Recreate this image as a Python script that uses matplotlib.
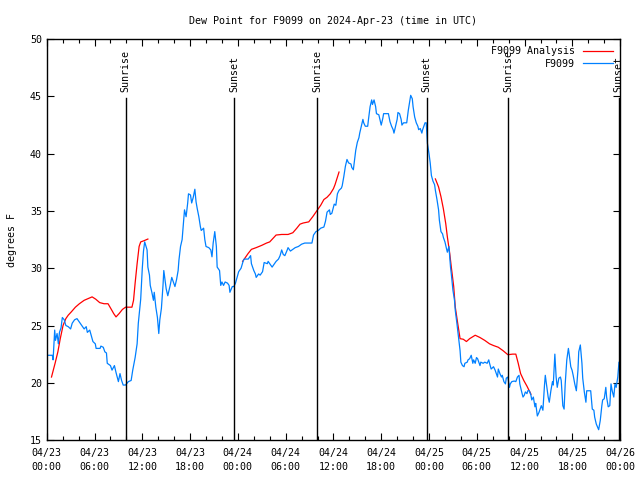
import matplotlib
matplotlib.use('Agg')
import matplotlib.pyplot as plt
from matplotlib.ticker import MultipleLocator

# hours since 2024-04-23 00:00 UTC
obs_hours = [0.1, 0.7, 0.8, 1.0, 1.1, 1.3, 1.46, 1.6, 1.8, 1.96, 2.2, 2.4, 2.7, 3.0, 3.2, 3.5, 3.8, 4.0,
             4.2, 4.5, 4.7, 4.96, 5.1, 5.4, 5.6, 5.8, 6.1, 6.2, 6.7, 6.8, 7.1, 7.3, 7.5, 7.6, 8.0, 8.2,
             8.5, 8.7, 9.0, 9.2, 9.4, 9.6, 9.9, 10.25, 10.6, 10.8, 11.1, 11.35, 11.5, 11.8, 12.0, 12.15,
             12.3, 12.6, 12.7, 12.9, 13.0, 13.2, 13.4, 13.5, 13.7, 13.9, 14.07, 14.2, 14.4, 14.6, 14.7,
             14.9, 15.0, 15.2, 15.5, 15.7, 15.9, 16.1, 16.3, 16.5, 16.6, 16.8, 17.0, 17.2, 17.3, 17.5,
             17.7, 17.8, 18.05, 18.2, 18.4, 18.6, 18.75, 18.9, 19.1, 19.3, 19.4, 19.7, 19.85, 20.0,
             20.35, 20.6, 20.75, 20.9, 21.1, 21.3, 21.4, 21.7, 21.85, 22.0, 22.2, 22.4, 22.7, 22.9,
             23.0, 23.3, 23.5, 23.7, 23.9, 24.1, 24.4, 24.7, 24.8, 25.3, 25.6, 25.7, 26.0, 26.2, 26.3,
             26.6, 26.8, 27.1, 27.3, 27.7, 27.8, 28.1, 28.3, 28.6, 28.8, 29.1, 29.3, 29.5, 29.7, 29.9,
             30.2, 30.3, 30.6, 30.8, 31.2, 31.6, 32.0, 32.4, 32.9, 33.3, 33.5, 33.8, 34.1, 34.4, 34.8,
             35.0, 35.2, 35.5, 35.6, 35.8, 36.1, 36.3, 36.5, 36.7, 37.0, 37.1, 37.3, 37.5, 37.7, 37.9,
             38.2, 38.3, 38.5, 38.7, 38.8, 39.0, 39.2, 39.3, 39.5, 39.7, 39.8, 40.0, 40.3, 40.4, 40.6,
             40.8, 40.9, 41.1, 41.3, 41.4, 41.7, 41.8, 42.0, 42.2, 42.3, 42.7, 42.9, 43.1, 43.3, 43.5,
             43.6, 43.8, 44.0, 44.1, 44.3, 44.5, 44.6, 44.8, 45.1, 45.2, 45.4, 45.6, 45.7, 45.9, 46.0,
             46.2, 46.4, 46.6, 46.7, 46.9, 47.1, 47.2, 47.5, 47.65, 47.8, 48.0, 48.15, 48.3, 48.5, 48.7,
             48.8, 49.0, 49.2, 49.3, 49.5, 49.7, 49.8, 50.0, 50.2, 50.3, 50.5, 50.7, 50.8, 51.0, 51.2,
             51.3, 51.5, 51.7, 51.9, 52.0, 52.2, 52.4, 52.5, 52.8, 52.9, 53.1, 53.3, 53.5, 53.6, 53.8,
             53.96, 54.1, 54.4, 54.5, 54.8, 55.0, 55.3, 55.5, 55.6, 55.8, 56.1, 56.3, 56.6, 56.7, 56.9,
             57.1, 57.2, 57.4, 57.6, 57.7, 57.9, 58.1, 58.2, 58.4, 58.7, 58.9, 59.1, 59.3, 59.4, 59.6,
             59.8, 59.95, 60.1, 60.3, 60.4, 60.6, 60.8, 60.9, 61.1, 61.3, 61.4, 61.6, 61.8, 61.95, 62.1,
             62.3, 62.5, 62.6, 62.8, 62.96, 63.1, 63.3, 63.5, 63.6, 63.8, 63.96, 64.1, 64.3, 64.5, 64.6,
             64.8, 64.96, 65.1, 65.3, 65.5, 65.6, 65.8, 65.96, 66.1, 66.3, 66.5, 66.7, 66.8, 67.0, 67.2,
             67.3, 67.5, 67.7, 67.8, 68.0, 68.3, 68.5, 68.7, 68.8, 69.0, 69.3, 69.5, 69.7, 69.8, 70.0,
             70.2, 70.3, 70.5, 70.7, 70.85, 71.0, 71.2, 71.35, 71.5, 71.7, 71.85, 72.0]
obs_dewpt = [22.4, 22.4, 22.0, 24.6, 23.7, 24.3, 23.4, 24.4, 24.8, 25.7, 25.5, 25.0, 24.9, 24.7, 25.2, 25.5, 25.6, 25.4,
             25.2, 24.9, 24.7, 24.9, 24.4, 24.6, 24.1, 23.6, 23.4, 23.0, 23.0, 23.2, 23.1, 22.7, 22.6, 21.7, 21.5, 21.1,
             21.5, 20.9, 20.1, 20.8, 20.2, 19.8, 19.8, 20.1, 20.2, 21.1, 22.2, 23.4, 25.2, 27.3, 30.0, 31.5,
             32.3, 31.6, 30.1, 29.4, 28.5, 27.9, 27.2, 27.9, 26.6, 25.7, 24.3, 25.5, 26.5, 28.5, 29.8,
             28.7, 28.2, 27.6, 28.5, 29.2, 28.8, 28.4, 29.0, 29.8, 30.7, 31.9, 32.5, 34.2, 35.1, 34.5,
             35.7, 36.5, 36.4, 35.7, 36.2, 36.9, 35.8, 35.2, 34.5, 33.6, 33.3, 33.5, 32.5, 31.9,
             31.8, 31.6, 31.0, 32.2, 33.2, 31.9, 30.1, 29.8, 28.5, 28.8, 28.5, 28.8, 28.7, 28.5,
             27.9, 28.4, 28.4, 28.7, 29.2, 29.7, 30.0, 30.7, 30.8, 30.8, 31.1, 30.4, 29.8, 29.5, 29.2,
             29.5, 29.4, 29.7, 30.5, 30.4, 30.6, 30.3, 30.1, 30.4, 30.6, 30.8, 31.1, 31.6, 31.2, 31.1,
             31.6, 31.8, 31.5, 31.6, 31.8, 31.9, 32.1, 32.2, 32.2, 32.2, 32.9, 33.2, 33.3, 33.5, 33.6,
             34.1, 34.9, 35.1, 34.7, 34.8, 35.6, 35.5, 36.5, 36.8, 37.0, 37.2, 38.0, 38.9, 39.5, 39.2,
             39.1, 38.8, 38.6, 39.7, 40.3, 41.0, 41.4, 41.8, 42.4, 43.0, 42.7, 42.4, 42.4, 43.0, 44.1,
             44.7, 44.3, 44.7, 44.1, 43.5, 43.4, 43.1, 42.5, 43.1, 43.5, 43.5, 43.5, 42.8, 42.4, 42.1,
             41.8, 42.4, 43.0, 43.6, 43.5, 43.0, 42.5, 42.7, 42.7, 42.7, 43.8, 44.7, 45.1, 44.8, 44.1,
             43.2, 42.7, 42.4, 42.1, 42.2, 41.8, 42.1, 42.7, 42.7, 40.9, 40.0, 39.2, 38.1, 37.6, 37.3,
             36.8, 36.0, 35.1, 34.2, 33.2, 33.0, 32.7, 32.3, 31.7, 31.4, 31.9, 30.1, 29.5, 28.1, 27.2,
             26.3, 25.2, 24.0, 22.8, 21.8, 21.5, 21.4, 21.7, 21.8, 22.0, 22.1, 22.4, 21.7, 22.0, 21.7,
             22.2, 22.1, 21.5, 21.8, 21.7, 21.8, 21.7, 22.0, 21.7, 21.2, 21.4, 21.1, 20.5, 21.2, 20.8,
             20.5, 20.65, 20.1, 19.9, 20.4, 20.5, 19.6, 19.9, 20.1, 20.15, 20.1, 20.5, 20.65, 19.9, 19.3,
             18.75, 18.9, 19.2, 19.05, 19.3, 19.3, 18.9, 18.5, 18.75, 17.9, 18.2, 17.1, 17.4, 17.7, 18.0,
             17.6, 19.8, 20.65, 19.6, 18.75, 18.3, 19.3, 20.1, 19.8, 22.5, 20.5, 19.6, 20.4, 20.5, 20.2,
             18.0, 17.7, 19.9, 22.0, 23.0, 22.5, 21.4, 21.1, 20.65, 19.9, 19.3, 21.1, 22.7, 23.3, 21.7,
             20.4, 19.2, 18.3, 19.3, 19.3, 19.3, 17.7, 17.6, 17.0, 16.4, 15.9, 16.7, 18.0, 18.5, 18.6,
             19.6, 18.75, 17.9, 18.0, 19.9, 19.3, 18.75, 19.9, 19.6, 20.5, 21.8, 20.8]

# analysis runs (three separate pieces)
ana1_hours = [0.6, 1.05, 1.4, 1.7, 2.05, 2.4, 2.7, 3.1, 3.6, 4.1, 4.7, 5.2, 5.7, 6.15, 6.65, 7.2, 7.7, 8.2,
              8.4, 8.7, 9.1, 9.5, 9.9, 10.7, 10.9, 11.1, 11.35, 11.6, 11.8, 12.2, 12.7]
ana1_dewpt = [20.5, 21.7, 22.7, 23.85, 25.0, 25.6, 25.9, 26.2, 26.6, 26.9, 27.2, 27.35, 27.5, 27.3, 27.0, 26.9, 26.9, 26.3,
              26.05, 25.75, 26.05, 26.4, 26.6, 26.6, 27.2, 28.7, 30.4, 31.9, 32.3, 32.4, 32.55]
ana2_hours = [24.6, 25.3, 25.7, 26.3, 27.0, 27.6, 28.0, 28.4, 28.8, 29.5, 30.3, 30.9, 31.4, 31.8, 32.2, 32.9,
              33.4, 34.0, 34.4, 34.8, 35.2, 35.6, 36.0, 36.2, 36.7]
ana2_dewpt = [30.6, 31.3, 31.65, 31.8, 32.0, 32.2, 32.3, 32.6, 32.9, 32.95, 32.95, 33.1, 33.5, 33.85, 33.95, 34.05,
              34.5, 35.1, 35.5, 36.0, 36.2, 36.5, 36.95, 37.3, 38.4]
ana3_hours = [48.8, 49.2, 49.5, 49.8, 50.1, 50.3, 50.6, 50.8, 51.1, 51.3, 51.6, 51.9, 52.3, 52.7, 53.1, 53.8,
              54.4, 55.0, 55.6, 56.1, 56.7, 57.3, 57.9, 58.5, 58.9, 59.2, 59.5, 59.9, 60.3, 60.8]
ana3_dewpt = [37.8, 37.1, 36.25, 35.2, 33.9, 32.75, 31.3, 30.1, 28.4, 26.6, 25.2, 23.85, 23.8, 23.6, 23.85, 24.15,
              23.95, 23.7, 23.4, 23.25, 23.1, 22.8, 22.45, 22.5, 22.5, 21.7, 20.8, 20.2, 19.7, 19.0]

sun_hours = [9.93, 23.55, 33.95, 47.7, 57.95, 71.8]
sun_labels = ['Sunrise', 'Sunset', 'Sunrise', 'Sunset', 'Sunrise', 'Sunset']

tick_hours = list(range(0, 73, 6))
tick_labels = ['04/23\n00:00', '04/23\n06:00', '04/23\n12:00', '04/23\n18:00',
               '04/24\n00:00', '04/24\n06:00', '04/24\n12:00', '04/24\n18:00',
               '04/25\n00:00', '04/25\n06:00', '04/25\n12:00', '04/25\n18:00',
               '04/26\n00:00']

plt.rcParams['font.family'] = 'DejaVu Sans Mono'
plt.rcParams['font.size'] = 7.2

fig = plt.figure(figsize=(6.4, 4.8), dpi=100, facecolor='white')
ax = fig.add_axes([0.073, 0.0833, 0.896, 0.835])

ax.plot(ana1_hours, ana1_dewpt, color='#ff0000', linewidth=0.9, label='F9099 Analysis')
ax.plot(ana2_hours, ana2_dewpt, color='#ff0000', linewidth=0.9)
ax.plot(ana3_hours, ana3_dewpt, color='#ff0000', linewidth=0.9)
ax.plot(obs_hours, obs_dewpt, color='#0080ff', linewidth=0.9, label='F9099')

# sunrise / sunset markers
for h, lab in zip(sun_hours, sun_labels):
    ax.plot([h, h], [15, 44.9], color='black', linewidth=1.0)
    ax.text(h, 45.35, lab, rotation=90, ha='center', va='bottom')

ax.set_xlim(0, 72)
ax.set_ylim(15, 50)
ax.set_xticks(tick_hours)
ax.set_xticklabels(tick_labels, linespacing=1.45)
ax.xaxis.set_minor_locator(MultipleLocator(2))
ax.set_yticks(range(15, 51, 5))
ax.tick_params(which='both', direction='in', top=True, right=True, length=5, width=0.8)
ax.tick_params(which='minor', length=3)
ax.tick_params(axis='x', pad=6)
for s in ax.spines.values():
    s.set_linewidth(1.0)

ax.set_title('Dew Point for F9099 on 2024-Apr-23 (time in UTC)', fontsize=7.2, pad=11)
ax.set_ylabel('degrees F', labelpad=9)

leg = ax.legend(loc='upper right', frameon=False, markerfirst=False, handlelength=3.0,
                borderaxespad=0.3, labelspacing=0.25, handletextpad=0.8)
for t in leg.get_texts():
    t.set_ha('right')

plt.savefig('out.png', dpi=100, facecolor='white')
